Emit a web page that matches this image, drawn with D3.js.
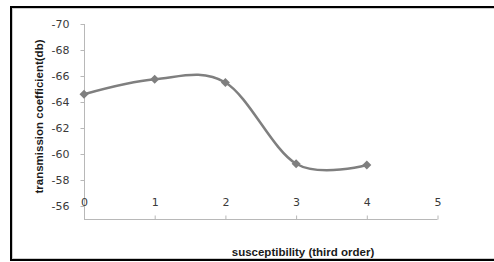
<!DOCTYPE html>
<html>
<head>
<meta charset="utf-8">
<script src="https://cdn.jsdelivr.net/npm/d3@7"></script>
<style>
  body { margin: 0; background: #fff; }
  text { font-family: "Liberation Sans", Arial, sans-serif; }
</style>
</head>
<body>
<div id="chart"></div>
<script>
// data
const susceptibility = [0, 1, 2, 3, 4];
const transmission = [-64.6, -65.75, -65.5, -59.25, -59.15];
const xTicks = [0, 1, 2, 3, 4, 5];
const yTicks = [-70, -68, -66, -64, -62, -60, -58, -56];

const W = 494, H = 262;
const svg = d3.select("#chart").append("svg")
    .attr("width", W)
    .attr("height", H);

// outer frame (runs off the right edge)
svg.append("rect")
    .attr("x", 11).attr("y", 7)
    .attr("width", 520).attr("height", 253)
    .attr("fill", "none")
    .attr("stroke", "#000")
    .attr("stroke-width", 2);
svg.append("rect")
    .attr("x", 12.5).attr("y", 8.5)
    .attr("width", 520).attr("height", 250)
    .attr("fill", "none")
    .attr("stroke", "#ccc")
    .attr("stroke-width", 1);

// y is reversed: -70 on top, axis runs down to -55 where the x axis sits
const x = d3.scaleLinear().domain([0, 5]).range([84, 437.5]);
const y = d3.scaleLinear().domain([-70, -55]).range([24, 219]);

const axisColor = "#b8b8b8";
const labelColor = "#3a3a3a";
const tickFont = '"DejaVu Sans", Verdana, sans-serif';

// y axis
const yAxis = svg.append("g")
    .attr("transform", "translate(84.5,0)")
    .call(d3.axisLeft(y).tickValues(yTicks).tickSize(4).tickPadding(11));
yAxis.select(".domain").attr("stroke", axisColor).attr("d", `M0,${y(-70)}V${y(-55)}`);
yAxis.selectAll(".tick line").attr("stroke", axisColor);
yAxis.selectAll(".tick text")
    .attr("fill", labelColor)
    .style("font-family", tickFont)
    .style("font-size", "11px")
    .text(d => String(d));

// x axis, ticks point up, labels above the line
const xAxis = svg.append("g")
    .attr("transform", `translate(0,${y(-55) + 0.5})`)
    .call(d3.axisTop(x).tickValues(xTicks).tickSize(4).tickPadding(10).tickFormat(d3.format("d")));
xAxis.select(".domain").attr("stroke", axisColor).attr("d", `M${x(0)},0H${x(5)}`);
xAxis.selectAll(".tick line").attr("stroke", axisColor);
xAxis.selectAll(".tick text")
    .attr("fill", labelColor)
    .style("font-family", tickFont)
    .style("font-size", "11px");

// axis titles
svg.append("text")
    .attr("transform", `translate(43,${(y(-70) + y(-55)) / 2 - 5}) rotate(-90)`)
    .attr("text-anchor", "middle")
    .style("font-size", "11.5px")
    .style("font-weight", "bold")
    .attr("fill", "#1a1a1a")
    .text("transmission coefficient(db)");

svg.append("text")
    .attr("x", 303)
    .attr("y", 256)
    .attr("text-anchor", "middle")
    .style("font-size", "11.5px")
    .style("font-weight", "bold")
    .attr("fill", "#1a1a1a")
    .text("susceptibility (third order)");

// smoothed line
const pts = susceptibility.map((s, i) => [s, transmission[i]]);
const line = d3.line()
    .x(d => x(d[0]))
    .y(d => y(d[1]))
    .curve(d3.curveCardinal.tension(0));

svg.append("path")
    .datum(pts)
    .attr("d", line)
    .attr("fill", "none")
    .attr("stroke", "#7f7f7f")
    .attr("stroke-width", 2.5);

// diamond markers
svg.selectAll(".marker")
    .data(pts)
    .join("path")
    .attr("class", "marker")
    .attr("transform", d => `translate(${x(d[0])},${y(d[1])})`)
    .attr("d", "M0,-4.5L4.5,0L0,4.5L-4.5,0Z")
    .attr("fill", "#7f7f7f");
</script>
</body>
</html>
